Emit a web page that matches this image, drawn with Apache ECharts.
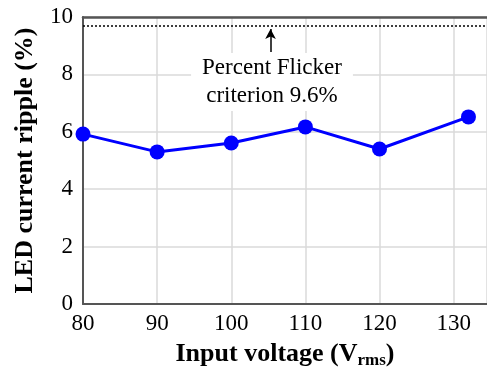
<!DOCTYPE html>
<html>
<head>
<meta charset="utf-8">
<script src="https://cdn.jsdelivr.net/npm/echarts@6/dist/echarts.min.js"></script>
<style>
  html, body { margin: 0; padding: 0; background: #fff; }
  #chart { width: 487px; height: 368px; }
</style>
</head>
<body>
<div id="chart"></div>
<script>
// input voltage (Vrms) and measured LED current ripple (%)
const voltages = [80, 90, 100, 110, 120, 132];
const ripple = [5.92, 5.3, 5.61, 6.17, 5.4, 6.52];
// flicker criterion line and arrow
const criterionLevel = 9.7;
const arrowX = 105.3;
const arrowFrom = 8.78;
const arrowTo = 9.58;

const font = 'Liberation Serif, Times New Roman, serif';
const chart = echarts.init(document.getElementById('chart'));

chart.setOption({
  animation: false,
  grid: { left: 83, right: 0, top: 17, bottom: 64, containLabel: false, outerBoundsMode: 'none' },
  xAxis: [{
    type: 'value',
    min: 80,
    max: 134.5,
    interval: 10,
    name: '{b|Input voltage (V}{s|rms}{b|)}',
    nameLocation: 'middle',
    nameGap: 36,
    nameTextStyle: {
      rich: {
        b: { fontFamily: font, fontWeight: 'bold', fontSize: 26, color: '#000' },
        s: { fontFamily: font, fontWeight: 'bold', fontSize: 17, color: '#000', padding: [12, 0, 0, 0] }
      }
    },
    axisLine: { show: true, lineStyle: { color: '#555', width: 2 } },
    axisTick: { show: false },
    axisLabel: { fontFamily: font, fontSize: 23, color: '#000', margin: 8, showMaxLabel: false },
    splitLine: { show: true, lineStyle: { color: '#dadada', width: 1.5 } }
  }, {
    type: 'value',
    position: 'top',
    min: 80,
    max: 134.5,
    axisLine: { show: true, lineStyle: { color: '#555', width: 2.5 } },
    axisTick: { show: false },
    axisLabel: { show: false },
    splitLine: { show: false }
  }],
  yAxis: {
    type: 'value',
    min: 0,
    max: 10,
    interval: 2,
    name: 'LED current ripple (%)',
    nameLocation: 'middle',
    nameGap: 45,
    nameTextStyle: { fontFamily: font, fontWeight: 'bold', fontSize: 26, color: '#000' },
    axisLine: { show: true, lineStyle: { color: '#555', width: 2 } },
    axisTick: { show: false },
    axisLabel: { fontFamily: font, fontSize: 23, color: '#000', margin: 10 },
    splitLine: { show: true, lineStyle: { color: '#dadada', width: 1.5 } }
  },
  graphic: [{
    type: 'text',
    x: 272,
    y: 53,
    z: 10,
    style: {
      text: 'Percent Flicker\ncriterion 9.6%',
      font: '23px ' + font,
      fill: '#000',
      align: 'center',
      verticalAlign: 'top',
      lineHeight: 28,
      backgroundColor: '#fff',
      padding: [1, 11, 1, 11]
    }
  }],
  series: [{
    type: 'line',
    data: voltages.map((v, i) => [v, ripple[i]]),
    symbol: 'circle',
    symbolSize: 15,
    lineStyle: { color: '#0000ff', width: 3 },
    itemStyle: { color: '#0000ff' },
    markLine: {
      silent: true,
      symbol: 'none',
      label: { show: false },
      data: [
        [{ coord: [80, criterionLevel], lineStyle: { color: '#000', width: 1.5, type: [2, 2] } },
         { coord: [134.5, criterionLevel] }],
        [{ coord: [arrowX, arrowFrom], symbol: 'none', lineStyle: { color: '#000', width: 1.5, type: 'solid' } },
         { coord: [arrowX, arrowTo], symbol: 'arrow', symbolSize: [8, 10] }]
      ]
    }
  }]
});
</script>
</body>
</html>
